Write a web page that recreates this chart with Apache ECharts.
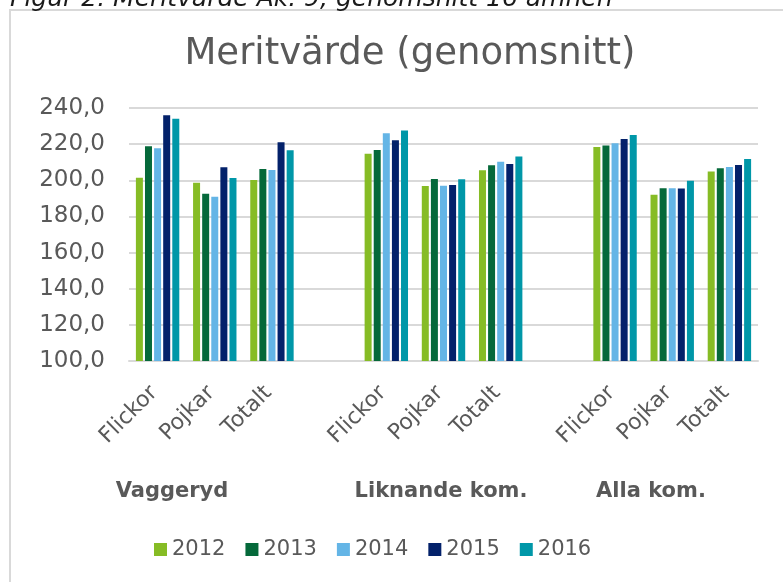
<!DOCTYPE html>
<html>
<head>
<meta charset="utf-8">
<script src="https://cdn.jsdelivr.net/npm/echarts@6/dist/echarts.min.js"></script>
<style>
  html, body { margin: 0; padding: 0; background: #fff; }
  #main { width: 783px; height: 582px; }
</style>
</head>
<body>
<div id="main"></div>
<script>
// kategorier och grupper
var categories = ['Flickor', 'Pojkar', 'Totalt'];
var groups = ['Vaggeryd', 'Liknande kom.', 'Alla kom.'];
var years = ['2012', '2013', '2014', '2015', '2016'];
var yTicks = [100, 120, 140, 160, 180, 200, 220, 240];

// värden per år: Vaggeryd F/P/T, Liknande F/P/T, Alla F/P/T
var v2012 = [201.4, 198.7, 200.2, 214.7, 196.8, 205.5, 218.4, 192.0, 204.8];
var v2013 = [218.8, 192.6, 206.3, 216.8, 200.7, 208.3, 219.2, 195.6, 206.6];
var v2014 = [217.7, 190.9, 205.7, 226.0, 197.0, 210.3, 220.5, 195.6, 207.4];
var v2015 = [236.0, 207.2, 221.1, 222.2, 197.4, 209.0, 222.9, 195.4, 208.5];
var v2016 = [234.0, 201.3, 216.6, 227.5, 200.6, 213.1, 225.1, 199.8, 211.8];

var colors = ['#86bc25', '#05693a', '#64b5e6', '#03216a', '#0097a8'];
var font = 'DejaVu Sans';

// tom plats mellan grupperna
function withGaps(arr, blank) {
  var out = [];
  for (var g = 0; g < groups.length; g++) {
    if (g > 0) out.push(blank);
    for (var c = 0; c < categories.length; c++) out.push(arr[g * categories.length + c]);
  }
  return out;
}
var labels = [];
groups.forEach(function () { labels = labels.concat(categories); });
var xData = withGaps(labels, '');

var seriesData = [v2012, v2013, v2014, v2015, v2016];

var myChart = echarts.init(document.getElementById('main'));
myChart.setOption({
  animation: false,
  color: colors,
  title: {
    text: 'Meritvärde (genomsnitt)',
    left: 405,
    top: 31,
    textAlign: 'center',
    textStyle: { fontFamily: font, fontSize: 37, fontWeight: 'normal', color: '#595959' }
  },
  legend: {
    data: years,
    left: 154,
    top: 539,
    padding: 0,
    itemWidth: 13,
    itemHeight: 13,
    itemGap: 20,
    icon: 'rect',
    textStyle: { fontFamily: font, fontSize: 21, color: '#595959' }
  },
  grid: { left: 129, right: 25, top: 108, bottom: 221 },
  xAxis: {
    type: 'category',
    data: xData,
    axisTick: { show: false },
    axisLine: { lineStyle: { color: '#d9d9d9', width: 2 } },
    axisLabel: {
      interval: 0,
      rotate: 45,
      margin: 25,
      padding: [0, 5, 0, 0],
      fontFamily: font,
      fontSize: 22,
      color: '#595959'
    }
  },
  yAxis: {
    type: 'value',
    min: yTicks[0],
    max: yTicks[yTicks.length - 1],
    interval: 20,
    axisLine: { show: false },
    axisTick: { show: false },
    splitLine: { lineStyle: { color: '#d9d9d9', width: 2 } },
    axisLabel: {
      margin: 24,
      fontFamily: font,
      fontSize: 23,
      color: '#595959',
      formatter: function (v) { return v.toFixed(1).replace('.', ','); }
    }
  },
  series: years.map(function (y, i) {
    return {
      name: y,
      type: 'bar',
      barWidth: 7,
      barGap: '30%',
      data: withGaps(seriesData[i], null)
    };
  }),
  graphic: [
    {
      type: 'rect',
      shape: { x: 10, y: 10, width: 820, height: 620 },
      style: { fill: 'none', stroke: '#d9d9d9', lineWidth: 2 },
      silent: true
    },
    {
      type: 'text',
      x: 10,
      y: 12,
      style: {
        text: 'Figur 2. Meritvärde Åk. 9, genomsnitt 16 ämnen',
        verticalAlign: 'bottom',
        fontFamily: font,
        fontStyle: 'italic',
        fontSize: 25,
        fill: '#1a1a1a'
      }
    },
    {
      type: 'text', x: 172, y: 492,
      style: { text: groups[0], align: 'center', verticalAlign: 'middle', fontFamily: font, fontWeight: 'bold', fontSize: 21, fill: '#595959' }
    },
    {
      type: 'text', x: 441, y: 492,
      style: { text: groups[1], align: 'center', verticalAlign: 'middle', fontFamily: font, fontWeight: 'bold', fontSize: 21, fill: '#595959' }
    },
    {
      type: 'text', x: 651, y: 492,
      style: { text: groups[2], align: 'center', verticalAlign: 'middle', fontFamily: font, fontWeight: 'bold', fontSize: 21, fill: '#595959' }
    }
  ]
});
</script>
</body>
</html>
